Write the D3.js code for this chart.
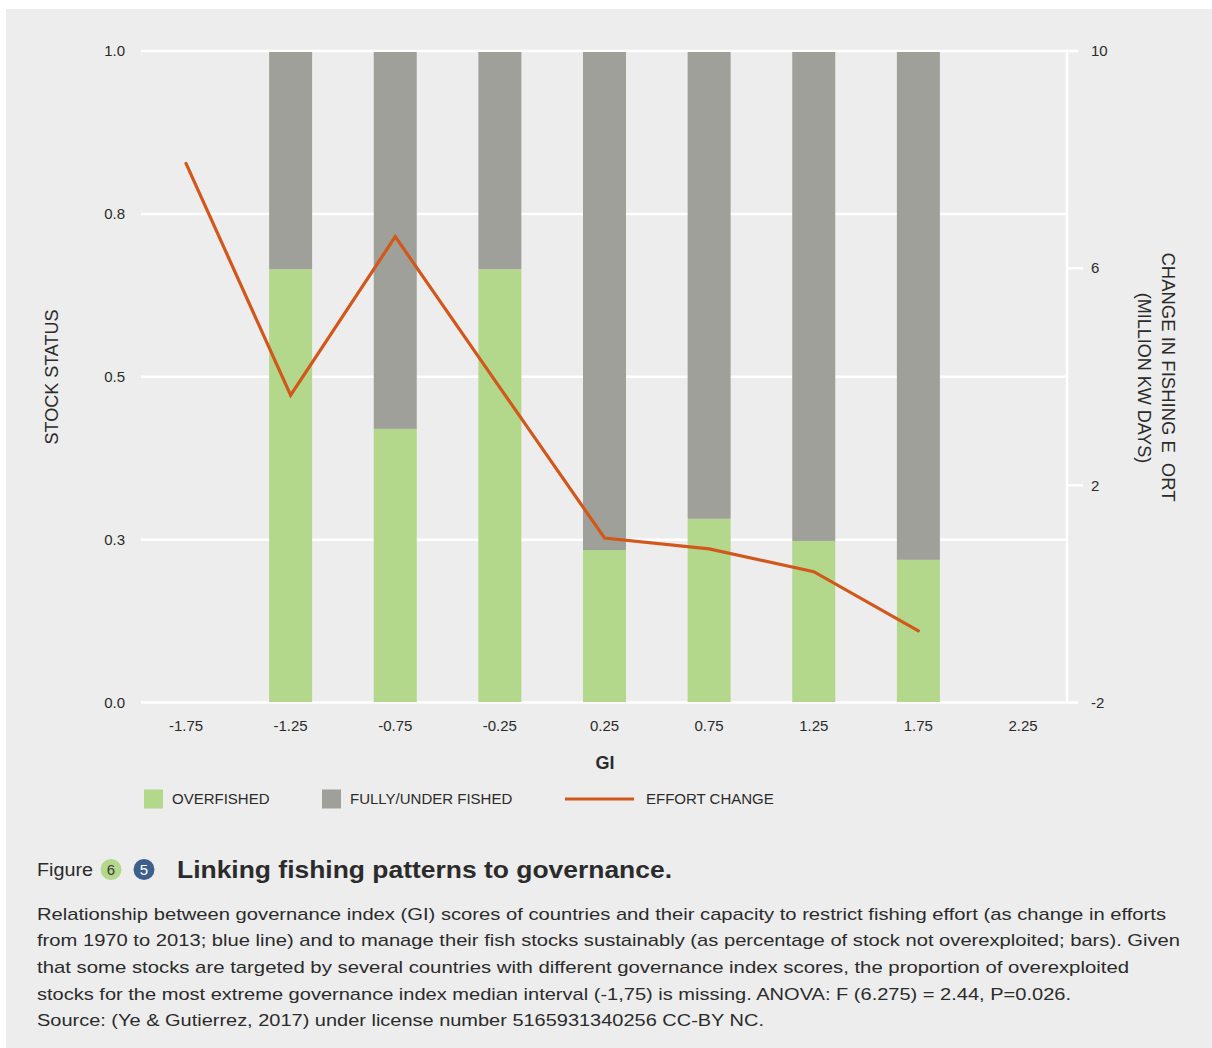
<!DOCTYPE html>
<html>
<head>
<meta charset="utf-8">
<script src="https://cdn.jsdelivr.net/npm/d3@7"></script>
<style>
  html, body { margin: 0; padding: 0; background: #ffffff; }
  svg { display: block; }
  text { font-family: "Liberation Sans", Arial, Helvetica, sans-serif; fill: #2b2b2b; }
</style>
</head>
<body>
<script>
// ---- data ----
const giCategories = ["-1.75","-1.25","-0.75","-0.25","0.25","0.75","1.25","1.75","2.25"];
const overfished   = [null, 0.665, 0.42, 0.665, 0.234, 0.282, 0.248, 0.219, null];
const fullyUnder   = [null, 0.335, 0.58, 0.335, 0.766, 0.718, 0.752, 0.781, null];
const effortChange = [7.93, 3.66, 6.58, 3.8, 1.03, 0.83, 0.41, -0.68, null];
const leftTicks = [0, 0.25, 0.5, 0.75, 1.0];
const leftTickLabels = ["0.0", "0.3", "0.5", "0.8", "1.0"];
const rightTicks = [-2, 2, 6, 10];
const rightTickLabels = ["-2", "2", "6", "10"];
const seriesNames = ["OVERFISHED", "FULLY/UNDER FISHED", "EFFORT CHANGE"];
const captionLines = [
  "Relationship between governance index (GI) scores of countries and their capacity to restrict fishing effort (as change in efforts",
  "from 1970 to 2013; blue line) and to manage their fish stocks sustainably (as percentage of stock not overexploited; bars). Given",
  "that some stocks are targeted by several countries with different governance index scores, the proportion of overexploited",
  "stocks for the most extreme governance index median interval (-1,75) is missing. ANOVA: F (6.275) = 2.44, P=0.026.",
  "Source: (Ye & Gutierrez, 2017) under license number 5165931340256 CC-BY NC."
];
const captionWidths = [1129, 1143, 1092, 1034, 727];

// ---- layout ----
const W = 1212, H = 1048;
const plot = { left: 141, right: 1067, top: 51, bottom: 702.5 };
const colors = { bg: "#ededed", green: "#b3d78b", gray: "#a0a09a", line: "#d2571b", grid: "#ffffff", blue: "#3f5e8c" };

const svg = d3.select("body").append("svg").attr("width", W).attr("height", H);
svg.append("rect").attr("x", 6).attr("y", 9).attr("width", W - 6).attr("height", H - 9).attr("fill", colors.bg);

const x = d3.scalePoint().domain(giCategories).range([186, 1023]);
const y = d3.scaleLinear().domain([0, 1]).range([plot.bottom, plot.top]);
const yR = d3.scaleLinear().domain([-2, 10]).range([plot.bottom, plot.top]);
const barW = 43;

// gridlines
const g = svg.append("g");
g.selectAll("line.grid").data(leftTicks).join("line")
  .attr("x1", plot.left).attr("x2", (d, i) => (i === 0 || i === leftTicks.length - 1) ? 1078 : plot.right)
  .attr("y1", d => y(d)).attr("y2", d => y(d))
  .attr("stroke", colors.grid).attr("stroke-width", 2.5);

// right axis line & ticks
g.append("line").attr("x1", plot.right).attr("x2", plot.right)
  .attr("y1", plot.top - 1.5).attr("y2", plot.bottom + 1)
  .attr("stroke", colors.grid).attr("stroke-width", 2.5);
g.selectAll("line.rtick").data(rightTicks).join("line")
  .attr("x1", plot.right).attr("x2", d => (d === -2 || d === 10) ? 1078 : 1083)
  .attr("y1", d => yR(d)).attr("y2", d => yR(d))
  .attr("stroke", colors.grid).attr("stroke-width", 2.5);

// bars
const barData = giCategories.map((c, i) => ({ c, o: overfished[i], f: fullyUnder[i] })).filter(d => d.o != null);
g.selectAll("rect.over").data(barData).join("rect")
  .attr("x", d => x(d.c) - barW / 2).attr("width", barW)
  .attr("y", d => y(d.o)).attr("height", d => y(0) - y(d.o) - 0.5)
  .attr("fill", colors.green);
g.selectAll("rect.full").data(barData).join("rect")
  .attr("x", d => x(d.c) - barW / 2).attr("width", barW)
  .attr("y", d => y(d.o + d.f) + 1).attr("height", d => y(d.o) - y(d.o + d.f) - 1)
  .attr("fill", colors.gray);

// effort line
const lineData = giCategories.map((c, i) => ({ c, v: effortChange[i] })).filter(d => d.v != null);
g.append("path").datum(lineData)
  .attr("d", d3.line().x(d => x(d.c)).y(d => yR(d.v)))
  .attr("fill", "none").attr("stroke", colors.line).attr("stroke-width", 3.2)
  .attr("stroke-linejoin", "miter").attr("stroke-linecap", "round");

// left tick labels
g.selectAll("text.lt").data(leftTicks).join("text")
  .attr("x", 125).attr("y", d => y(d)).attr("dy", "0.35em")
  .attr("text-anchor", "end").attr("font-size", 15)
  .text((d, i) => leftTickLabels[i]);
// right tick labels
g.selectAll("text.rt").data(rightTicks).join("text")
  .attr("x", 1091).attr("y", d => yR(d)).attr("dy", "0.35em")
  .attr("text-anchor", "start").attr("font-size", 15)
  .text((d, i) => rightTickLabels[i]);
// x tick labels
g.selectAll("text.xt").data(giCategories).join("text")
  .attr("x", d => x(d)).attr("y", 726).attr("dy", "0.35em")
  .attr("text-anchor", "middle").attr("font-size", 15)
  .text(d => d);

// axis titles
svg.append("text").attr("x", 605).attr("y", 763).attr("dy", "0.35em")
  .attr("text-anchor", "middle").attr("font-size", 18).attr("font-weight", "bold").text("GI");
svg.append("text").attr("transform", "translate(58,377) rotate(-90)")
  .attr("text-anchor", "middle").attr("font-size", 18).text("STOCK STATUS");
const rt1 = svg.append("text").attr("transform", "translate(1162,377) rotate(90)")
  .attr("text-anchor", "middle").attr("font-size", 18.5);
rt1.append("tspan").text("CHANGE IN FISHING E");
rt1.append("tspan").attr("dx", 10).text("ORT");
svg.append("text").attr("transform", "translate(1138,378) rotate(90)")
  .attr("text-anchor", "middle").attr("font-size", 18).text("(MILLION KW DAYS)");

// legend
const leg = svg.append("g");
leg.append("rect").attr("x", 144).attr("y", 789.5).attr("width", 19).attr("height", 19).attr("fill", colors.green);
leg.append("text").attr("x", 172).attr("y", 799).attr("dy", "0.35em").attr("font-size", 15).text(seriesNames[0]);
leg.append("rect").attr("x", 322).attr("y", 789.5).attr("width", 19).attr("height", 19).attr("fill", colors.gray);
leg.append("text").attr("x", 350).attr("y", 799).attr("dy", "0.35em").attr("font-size", 15).text(seriesNames[1]);
leg.append("line").attr("x1", 565).attr("x2", 634).attr("y1", 799).attr("y2", 799)
  .attr("stroke", colors.line).attr("stroke-width", 3);
leg.append("text").attr("x", 646).attr("y", 799).attr("dy", "0.35em").attr("font-size", 15).text(seriesNames[2]);

// caption
const cap = svg.append("g");
cap.append("text").attr("x", 37).attr("y", 876).attr("font-size", 18).attr("textLength", 56)
  .attr("lengthAdjust", "spacingAndGlyphs").text("Figure");
cap.append("circle").attr("cx", 111).attr("cy", 869.5).attr("r", 10.5).attr("fill", colors.green);
cap.append("text").attr("x", 111).attr("y", 869.5).attr("dy", "0.36em").attr("text-anchor", "middle")
  .attr("font-size", 15).style("fill", "#3a3a3a").text("6");
cap.append("circle").attr("cx", 144).attr("cy", 869.5).attr("r", 10.5).attr("fill", colors.blue);
cap.append("text").attr("x", 144).attr("y", 869.5).attr("dy", "0.36em").attr("text-anchor", "middle")
  .attr("font-size", 15).style("fill", "#ffffff").text("5");
cap.append("text").attr("x", 177).attr("y", 877.5).attr("font-size", 24).attr("font-weight", "bold")
  .attr("textLength", 495).attr("lengthAdjust", "spacingAndGlyphs")
  .text("Linking fishing patterns to governance.");
cap.selectAll("text.cl").data(captionLines).join("text")
  .attr("x", 37).attr("y", (d, i) => 919.5 + i * 26.7)
  .attr("font-size", 17)
  .attr("textLength", (d, i) => captionWidths[i]).attr("lengthAdjust", "spacingAndGlyphs")
  .text(d => d);
</script>
</body>
</html>
